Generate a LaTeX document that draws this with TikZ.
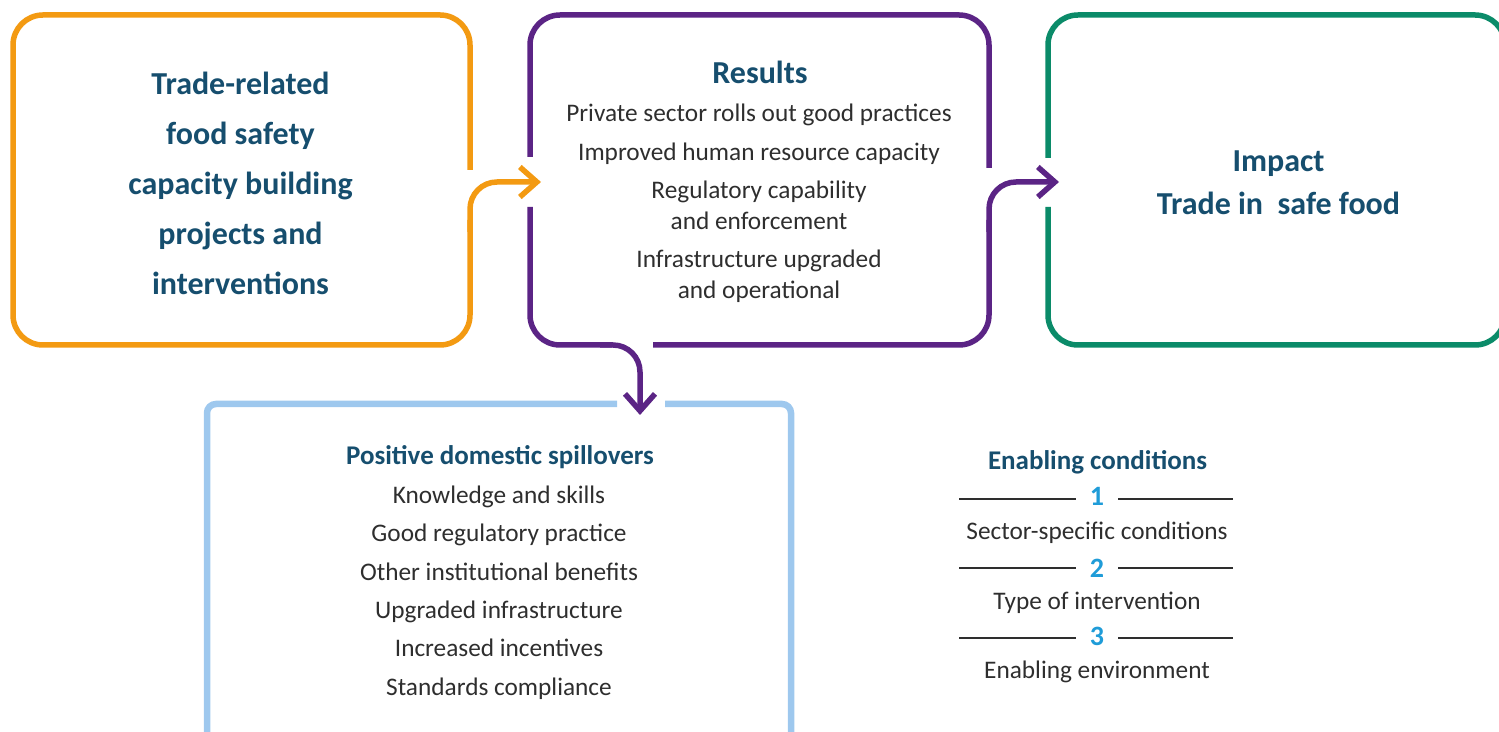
\documentclass[tikz,border=0pt]{standalone}
\usepackage{fontspec}
\setmainfont{Carlito}
\usetikzlibrary{arrows.meta}
\definecolor{tradeorange}{HTML}{F39A12}
\definecolor{resultpurple}{HTML}{5B2485}
\definecolor{impactgreen}{HTML}{0B8B69}
\definecolor{spillblue}{HTML}{9EC8EE}
\definecolor{headblue}{HTML}{164E6E}
\definecolor{itemgray}{HTML}{2E2E2E}
\definecolor{numblue}{HTML}{1F9CD8}
\begin{document}
\begin{tikzpicture}[>={Straight Barb[length=17bp,width=30bp]},line join=miter,
  frame/.style={line width=5.5bp,rounded corners=30bp},
  flow/.style={line width=5.5bp,rounded corners=27bp,->},
  bighead/.style={font=\fontsize{32bp}{50bp}\selectfont\bfseries,text=headblue,align=center,inner sep=0pt},
  subhead/.style={font=\fontsize{27bp}{32bp}\selectfont\bfseries,text=headblue,inner sep=0pt},
  item/.style={font=\fontsize{25.3bp}{31bp}\selectfont,text=itemgray,align=center,inner sep=0pt},
  num/.style={font=\fontsize{28bp}{32bp}\selectfont\bfseries,text=numblue,inner sep=0pt},
  rule/.style={line width=1.3bp,itemgray}]
\useasboundingbox (0bp,0bp) rectangle (1499bp,732bp);
%% frames
\draw [frame,tradeorange] (470bp,562bp) -- (470bp,717bp) -- (13bp,717bp) -- (13bp,387bp) -- (470bp,387bp) -- (470bp,512bp);
\draw [frame,resultpurple] (530bp,575bp) -- (530bp,717bp) -- (989bp,717bp) -- (989bp,564bp);
\draw [frame,resultpurple] (530bp,525bp) -- (530bp,387bp) -- (612bp,387bp);
\draw [frame,resultpurple] (653bp,387bp) -- (989bp,387bp) -- (989bp,512bp);
\draw [frame,impactgreen] (1048bp,574bp) -- (1048bp,717bp) -- (1505bp,717bp) -- (1505bp,387bp) -- (1048bp,387bp) -- (1048bp,525bp);
\draw [frame,spillblue,line width=6.5bp,rounded corners=9bp] (617bp,328bp) -- (207bp,328bp) -- (207bp,-30bp) -- (791bp,-30bp) -- (791bp,328bp) -- (665bp,328bp);
%% boxes
\node (trade) at (240.5bp,437.5bp) [bighead,anchor=base] {Trade-related\\food safety\\capacity building\\projects and\\interventions};
  \node (results) at (760bp,648.5bp) [bighead,anchor=base] {Results};
  \node (res_1) at (759bp,610.5bp) [item,anchor=base] {Private sector rolls out good practices};
  \node (res_2) at (759bp,571.5bp) [item,anchor=base] {Improved human resource capacity};
  \node (res_3) at (759bp,502.5bp) [item,anchor=base] {Regulatory capability\\and enforcement};
  \node (res_4) at (759bp,433.5bp) [item,anchor=base] {Infrastructure upgraded\\and operational};
  \node (impact) at (1278.5bp,517.5bp) [bighead,anchor=base,font=\fontsize{32bp}{43bp}\selectfont\bfseries] {Impact\\Trade in~ safe food};
  \node (spill) at (500bp,267.5bp) [subhead,anchor=base] {Positive domestic spillovers};
  \node (spill_1) at (499bp,228.5bp) [item,anchor=base] {Knowledge and skills};
  \node (spill_2) at (499bp,190.5bp) [item,anchor=base] {Good regulatory practice};
  \node (spill_3) at (499bp,151.5bp) [item,anchor=base] {Other institutional benefits};
  \node (spill_4) at (499bp,113.5bp) [item,anchor=base] {Upgraded infrastructure};
  \node (spill_5) at (499bp,75.5bp) [item,anchor=base] {Increased incentives};
  \node (spill_6) at (499bp,36.5bp) [item,anchor=base] {Standards compliance};
%% enabling conditions
\node (enabling) at (1097.5bp,262.5bp) [subhead,anchor=base] {Enabling conditions};
  \node (num_1) at (1097bp,226bp) [num,anchor=base] {1};
  \node (cond_1) at (1097bp,192.5bp) [item,anchor=base] {Sector-specific conditions};
  \node (num_2) at (1097bp,154bp) [num,anchor=base] {2};
  \node (cond_2) at (1097bp,122.5bp) [item,anchor=base] {Type of intervention};
  \node (num_3) at (1097bp,86bp) [num,anchor=base] {3};
  \node (cond_3) at (1097bp,53.5bp) [item,anchor=base] {Enabling environment};
  \draw [rule] (959bp,233bp) -- (1076bp,233bp);
  \draw [rule] (1118bp,233bp) -- (1233bp,233bp);
  \draw [rule] (959bp,164bp) -- (1076bp,164bp);
  \draw [rule] (1118bp,164bp) -- (1233bp,164bp);
  \draw [rule] (959bp,94bp) -- (1076bp,94bp);
  \draw [rule] (1118bp,94bp) -- (1233bp,94bp);
%% arrows
\coordinate (trade_out) at (470bp,500bp);
  \coordinate (results_in) at (541bp,550bp);
  \coordinate (results_out) at (989bp,500bp);
  \coordinate (impact_in) at (1059bp,550bp);
  \coordinate (results_down) at (600bp,387bp);
  \coordinate (spill_in) at (640bp,317bp);
  \draw [tradeorange,flow] (trade_out) |- (results_in);
  \draw [resultpurple,flow] (results_out) |- (impact_in);
  \draw [resultpurple,flow] (results_down) -| (spill_in);
%
\end{tikzpicture}
\end{document}
